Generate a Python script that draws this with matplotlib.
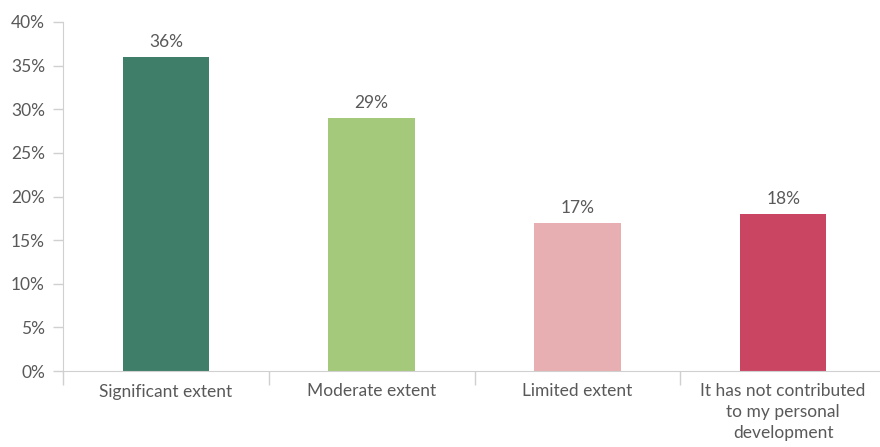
import matplotlib
matplotlib.use("Agg")
import matplotlib.pyplot as plt
from matplotlib.ticker import FixedLocator, PercentFormatter

categories = ["Significant extent", "Moderate extent", "Limited extent",
              "It has not contributed\nto my personal\ndevelopment"]
values = [36, 29, 17, 18]
colors = ["#3f7f69", "#a5c97b", "#e8afb2", "#c94562"]

plt.rcParams['font.family'] = ['Lato', 'DejaVu Sans']
txt = "#595959"
line = "#d0d0d0"

fig = plt.figure(figsize=(8.8, 4.47), dpi=100)
ax = fig.add_axes([63/880, 76/447, 823/880, 349/447])

x = list(range(len(categories)))
bars = ax.bar(x, values, width=0.42, color=colors)
for b, v in zip(bars, values):
    ax.text(b.get_x() + b.get_width()/2, v + 0.8, f"{v}%", ha="center",
            va="bottom", fontsize=12.5, color=txt)

ax.set_xlim(-0.5, 3.5)
ax.set_ylim(0, 40)
ax.set_yticks(range(0, 41, 5))
ax.yaxis.set_major_formatter(PercentFormatter(decimals=0))

# category boundaries get the tick marks, labels sit in between
ax.xaxis.set_major_locator(FixedLocator([-0.5, 0.5, 1.5, 2.5]))
ax.xaxis.set_minor_locator(FixedLocator(x))
ax.set_xticklabels([])
ax.set_xticklabels(categories, minor=True, linespacing=1.35)
ax.tick_params(axis="x", which="major", length=10, color=line, width=1)
ax.tick_params(axis="x", which="minor", length=0, pad=9, labelsize=12.5, labelcolor=txt)
ax.tick_params(axis="y", length=7, color=line, width=1, labelsize=12.5, labelcolor=txt, pad=6)

for s in ["top", "right"]:
    ax.spines[s].set_visible(False)
for s in ["left", "bottom"]:
    ax.spines[s].set_color(line)

fig.savefig("out.png", dpi=100)
